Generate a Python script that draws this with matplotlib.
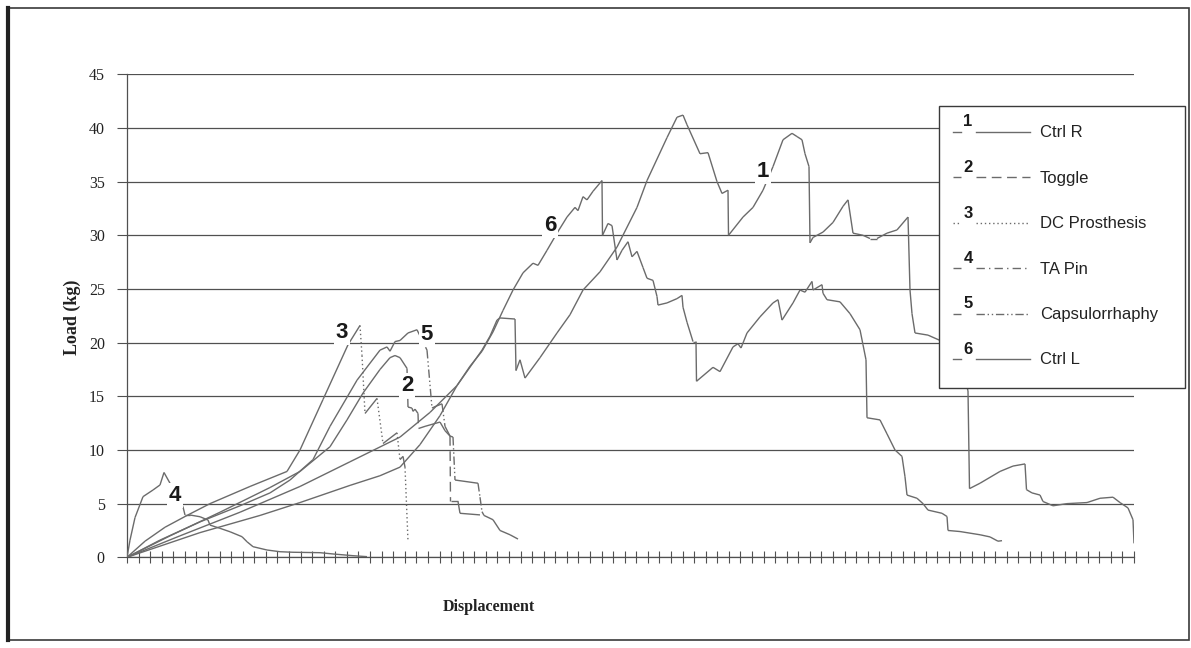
import numpy as np
import matplotlib
matplotlib.use("Agg")
import matplotlib.pyplot as plt
from matplotlib.collections import LineCollection
from matplotlib.patches import Rectangle

# displacement in arbitrary units (axis has no labels), load in kg
ctrl_r_x = [0, 53, 113, 173, 223, 273, 303, 330, 355, 363, 370, 373, 388, 389, 393, 398, 413, 430,
            443, 456, 473, 490, 510, 520, 540, 550, 556, 560, 573, 581, 590, 595, 601, 601.5, 616,
            626, 636, 646, 656, 665, 670, 675, 678, 682, 683, 686, 696, 706, 716, 721, 726, 736, 743,
            750, 760, 770, 781, 783, 785, 788, 801, 818, 833, 841, 842.5, 853, 873, 886, 898, 899.5,
            905, 913, 916, 926, 940, 960, 973, 986, 993, 1001, 1006, 1007]
ctrl_r_y = [0, 2.0, 4.2, 6.6, 8.9, 11.2, 13.5, 16.0, 19.3, 20.6, 22.1, 22.3, 22.2, 17.4, 18.4, 16.7,
            18.6, 20.9, 22.6, 24.9, 26.6, 28.9, 32.6, 35.1, 39.1, 41.0, 41.2, 40.3, 37.6, 37.7, 35.0,
            33.9, 34.2, 30.0, 31.7, 32.6, 34.2, 36.4, 38.9, 39.5, 39.2, 38.9, 37.6, 36.4, 29.3, 29.8,
            30.3, 31.2, 32.7, 33.3, 30.2, 30.0, 29.7, 29.7, 30.2, 30.5, 31.7, 24.9, 22.7, 20.9, 20.7,
            20.0, 18.5, 15.5, 6.4, 6.9, 8.0, 8.5, 8.7, 6.3, 6.0, 5.8, 5.2, 4.8, 5.0, 5.1, 5.5, 5.6,
            5.1, 4.6, 3.5, 1.3]

toggle_x = [0, 43, 93, 143, 173, 203, 220, 236, 253, 263, 268, 273, 280, 281, 285, 286, 288, 291,
            291.5, 298, 313, 318, 323, 323.5, 331, 333, 353]
toggle_y = [0, 2.0, 4.2, 6.5, 8.0, 10.3, 12.8, 15.3, 17.5, 18.6, 18.8, 18.6, 17.6, 14.0, 13.9, 13.6,
            13.8, 13.4, 12.0, 12.2, 12.6, 11.8, 11.3, 5.2, 5.2, 4.1, 3.95]

dc_x = [0, 18, 38, 60, 83, 123, 160, 173, 196, 221, 233, 235, 238, 250, 256, 270, 273, 276, 278, 281]
dc_y = [0, 1.5, 2.8, 3.9, 5.0, 6.6, 8.0, 10.0, 14.7, 19.8, 21.6, 18.8, 13.4, 14.8, 10.6, 11.6, 9.1,
        9.4, 8.4, 1.5]

ta_x = [0, 3, 8, 16, 26, 33, 37, 43, 50, 56, 58, 63, 73, 81, 83, 88, 93, 103, 115, 120, 126, 140,
        153, 166, 193, 206, 226, 240]
ta_y = [0, 1.6, 3.7, 5.65, 6.27, 6.74, 7.9, 6.9, 5.8, 4.7, 3.94, 3.94, 3.78, 3.47, 3.0, 2.85, 2.7,
        2.38, 1.92, 1.45, 0.99, 0.68, 0.52, 0.47, 0.43, 0.31, 0.15, 0.06]

caps_x = [0, 33, 73, 113, 143, 163, 186, 203, 230, 253, 260, 263, 268, 273, 281, 290, 300, 305, 307,
          315, 318, 323, 326, 328, 351, 353, 355, 357, 366, 373, 383, 391]
caps_y = [0, 1.6, 3.3, 4.8, 6.0, 7.2, 9.1, 12.2, 16.5, 19.3, 19.6, 19.2, 20.1, 20.2, 20.9, 21.2, 19.3,
          13.9, 14.0, 14.3, 12.2, 11.3, 11.2, 7.2, 6.9, 5.6, 4.25, 3.9, 3.5, 2.5, 2.1, 1.7]

ctrl_l_x = [0, 73, 133, 173, 223, 253, 273, 293, 313, 330, 343, 355, 366, 376, 386, 396, 406, 411,
            420, 430, 440, 448, 451, 456, 460, 466, 475, 475.5, 481, 485, 490, 495, 501, 505, 510,
            516, 520, 526, 530, 531, 540, 550, 555, 556, 560, 566, 569, 569.5, 586, 593, 606, 611,
            614, 620, 633, 646, 651, 655, 666, 673, 678, 685, 686, 695, 696, 700, 713, 723, 733, 736,
            739, 740, 753, 760, 768, 775, 778, 780, 790, 796, 801, 815, 820, 821, 833, 853, 863, 871,
            875]
ctrl_l_y = [0, 2.3, 3.9, 5.1, 6.7, 7.6, 8.4, 10.5, 13.2, 16.0, 17.8, 19.2, 21.0, 23.0, 24.9, 26.5,
            27.4, 27.2, 28.6, 30.2, 31.7, 32.6, 32.3, 33.6, 33.3, 34.1, 35.1, 30.0, 31.1, 30.9, 27.7,
            28.6, 29.4, 28.0, 28.5, 27.0, 26.0, 25.8, 24.3, 23.5, 23.7, 24.1, 24.4, 23.3, 21.9, 20.1,
            20.1, 16.4, 17.7, 17.3, 19.6, 19.9, 19.5, 20.9, 22.4, 23.7, 24.0, 22.1, 23.7, 24.9, 24.7,
            25.7, 24.9, 25.4, 24.6, 24.0, 23.8, 22.7, 21.2, 19.8, 18.4, 13.0, 12.8, 11.5, 10.0, 9.4,
            7.5, 5.8, 5.5, 5.0, 4.4, 4.1, 3.8, 2.5, 2.4, 2.1, 1.9, 1.5, 1.55]

series_names = ["Ctrl R", "Toggle", "DC Prosthesis", "TA Pin", "Capsulorrhaphy", "Ctrl L"]
series_x = [ctrl_r_x, toggle_x, dc_x, ta_x, caps_x, ctrl_l_x]
series_y = [ctrl_r_y, toggle_y, dc_y, ta_y, caps_y, ctrl_l_y]
styles = ["solid", (0, (7, 4)), (0, (1, 2)), (0, (6, 3, 1, 3)), (0, (6, 2, 1, 2, 1, 2)), "solid"]

# where each curve carries its number on the chart
label_pos = [(636, 35.9), (280, 16.0), (215, 20.9), (48, 5.8), (300, 20.8), (423, 30.9)]

line_col = "#6b6b6b"
grid_col = "#505050"

fig = plt.figure(figsize=(11.91, 6.48), dpi=100)
ax = fig.add_axes([127 / 1191, 1 - 557.3 / 648, 1007 / 1191, 483 / 648])
ax.set_xlim(0, 1007)
ax.set_ylim(0, 45)

ax.set_yticks(range(0, 46, 5))
ax.yaxis.grid(True, color=grid_col, linewidth=0.9)
ax.set_axisbelow(True)
ax.set_xticks(np.linspace(0, 1007, 88))
ax.set_xticklabels([])
ax.tick_params(axis="x", direction="inout", length=8, color=grid_col, width=0.8)
ax.tick_params(axis="y", direction="out", length=7, color=grid_col, width=0.8, pad=9,
               labelsize=11.5, labelcolor="#222222")
for lab in ax.get_yticklabels():
    lab.set_fontfamily("Liberation Serif")
for s in ["top", "right"]:
    ax.spines[s].set_visible(False)
for s in ["left", "bottom"]:
    ax.spines[s].set_color(grid_col)
    ax.spines[s].set_linewidth(0.9)

# Excel restarts the dash pattern on every segment, so only the long drops show it
for xs, ys, st in zip(series_x, series_y, styles):
    segs, lss = [], []
    for i in range(len(xs) - 1):
        segs.append([(xs[i], ys[i]), (xs[i + 1], ys[i + 1])])
        dx = abs(xs[i + 1] - xs[i])
        dy = (ys[i + 1] - ys[i]) * 10.73
        if dy < -12 and abs(dy) > 2 * dx:
            lss.append(st)
        else:
            lss.append("solid")
    ax.add_collection(LineCollection(segs, colors=line_col, linewidths=1.0, linestyles=lss,
                                     zorder=3))

for i, (lx, ly) in enumerate(label_pos):
    ax.text(lx, ly, str(i + 1), fontsize=16, fontweight="bold", family="Liberation Sans",
            ha="center", va="center", color="#1a1a1a", zorder=5,
            bbox=dict(facecolor="white", edgecolor="none", pad=1.5))

fig.text(72 / 1191, 1 - 317 / 648, "Load (kg)", rotation=90, ha="center", va="center",
         fontsize=13, fontweight="bold", family="Liberation Serif", color="#222222")
fig.text(489 / 1191, 1 - 607 / 648, "Displacement", ha="center", va="center",
         fontsize=11.5, fontweight="bold", family="Liberation Serif", color="#222222")

# overlay in pixel units for the frame and the legend box
ov = fig.add_axes([0, 0, 1, 1], facecolor="none")
ov.set_xlim(0, 1191)
ov.set_ylim(648, 0)
ov.axis("off")
ov.add_patch(Rectangle((8, 8), 1181, 632, fill=False, edgecolor="#3a3a3a", linewidth=1.2))
ov.plot([8, 8], [8, 640], color="#222222", linewidth=3)

ov.add_patch(Rectangle((939, 106), 246, 282, facecolor="white", edgecolor="#3a3a3a",
                       linewidth=1.0, zorder=4))
for i, name in enumerate(series_names):
    yy = 131.5 + i * 45.5
    ov.plot([953, 961], [yy, yy], color=line_col, linewidth=1.0, linestyle=styles[i], zorder=5)
    ov.plot([976, 1030], [yy, yy], color=line_col, linewidth=1.0, linestyle=styles[i], zorder=5)
    ov.text(968, yy - 2, str(i + 1), fontsize=12, fontweight="bold", family="Liberation Sans",
            ha="center", va="bottom", color="#1a1a1a", zorder=6)
    ov.text(1040, yy + 1, name, fontsize=12, family="Liberation Sans", ha="left",
            va="center", color="#222222", zorder=6)

fig.savefig("out.png", dpi=100, facecolor="white")
